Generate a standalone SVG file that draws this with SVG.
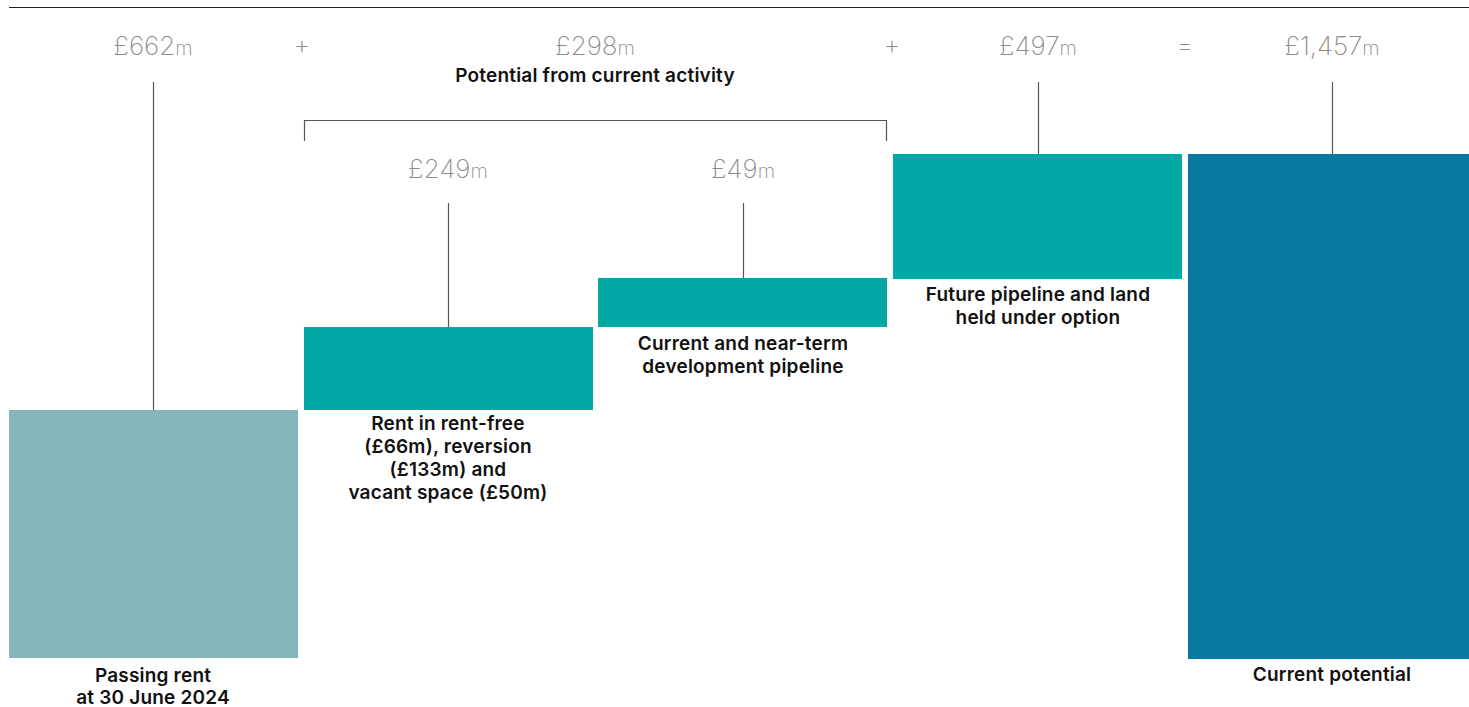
<svg xmlns="http://www.w3.org/2000/svg" width="1469" height="707" viewBox="0 0 1469 707">
<style>
.val{font-family:Inter,"Liberation Sans",sans-serif;font-weight:200;font-size:26px;fill:#8c8c8c;text-anchor:middle}
.val tspan.u{font-size:20px}
.op{font-family:Inter,"Liberation Sans",sans-serif;font-weight:200;font-size:26px;fill:#8c8c8c;text-anchor:middle}
.lbl{font-family:Inter,"Liberation Sans",sans-serif;font-weight:600;font-size:19px;letter-spacing:0.2px;fill:#111;text-anchor:middle}
.ln{stroke:#555;stroke-width:1.2;fill:none}
</style>
<line x1="9" y1="7.5" x2="1469" y2="7.5" stroke="#222" stroke-width="1.2"/>
<g id="connectors">
<line class="ln" x1="153.5" y1="82" x2="153.5" y2="410"/>
<line class="ln" x1="448.5" y1="203" x2="448.5" y2="327"/>
<line class="ln" x1="743.5" y1="203" x2="743.5" y2="278"/>
<line class="ln" x1="1038.5" y1="82" x2="1038.5" y2="154"/>
<line class="ln" x1="1332.5" y1="82" x2="1332.5" y2="154"/>
<path class="ln" d="M304.5 141 V120.5 H886.5 V141"/>
</g>
<g id="operators">
<text class="op" x="302" y="54">+</text>
<text class="op" x="892" y="54">+</text>
<text class="op" x="1185" y="54">=</text>
</g>
<g id="passing-rent">
<text class="val" x="153" y="55">£662<tspan class="u">m</tspan></text>
<rect x="9" y="410" width="289" height="248" fill="#86b5bc"/>
<text class="lbl" x="153" y="682">Passing rent</text>
<text class="lbl" x="153" y="704">at 30 June 2024</text>
</g>
<g id="potential-current-activity">
<text class="val" x="595" y="55">£298<tspan class="u">m</tspan></text>
<text class="lbl" x="595" y="82">Potential from current activity</text>
</g>
<g id="rent-free">
<text class="val" x="448" y="178">£249<tspan class="u">m</tspan></text>
<rect x="304" y="327" width="289" height="83" fill="#00a9a4"/>
<text class="lbl" x="448" y="430">Rent in rent-free</text>
<text class="lbl" x="448" y="453">(£66m), reversion</text>
<text class="lbl" x="448" y="476">(£133m) and</text>
<text class="lbl" x="448" y="499">vacant space (£50m)</text>
</g>
<g id="near-term">
<text class="val" x="743" y="178">£49<tspan class="u">m</tspan></text>
<rect x="598" y="278" width="289" height="49" fill="#00a9a4"/>
<text class="lbl" x="743" y="350">Current and near-term</text>
<text class="lbl" x="743" y="373">development pipeline</text>
</g>
<g id="future-pipeline">
<text class="val" x="1038" y="55">£497<tspan class="u">m</tspan></text>
<rect x="893" y="154" width="289" height="125" fill="#00a9a4"/>
<text class="lbl" x="1038" y="301">Future pipeline and land</text>
<text class="lbl" x="1038" y="324">held under option</text>
</g>
<g id="current-potential">
<text class="val" x="1332" y="55">£1,457<tspan class="u">m</tspan></text>
<rect x="1188" y="154" width="281" height="505" fill="#08799f"/>
<text class="lbl" x="1332" y="681">Current potential</text>
</g>
</svg>
